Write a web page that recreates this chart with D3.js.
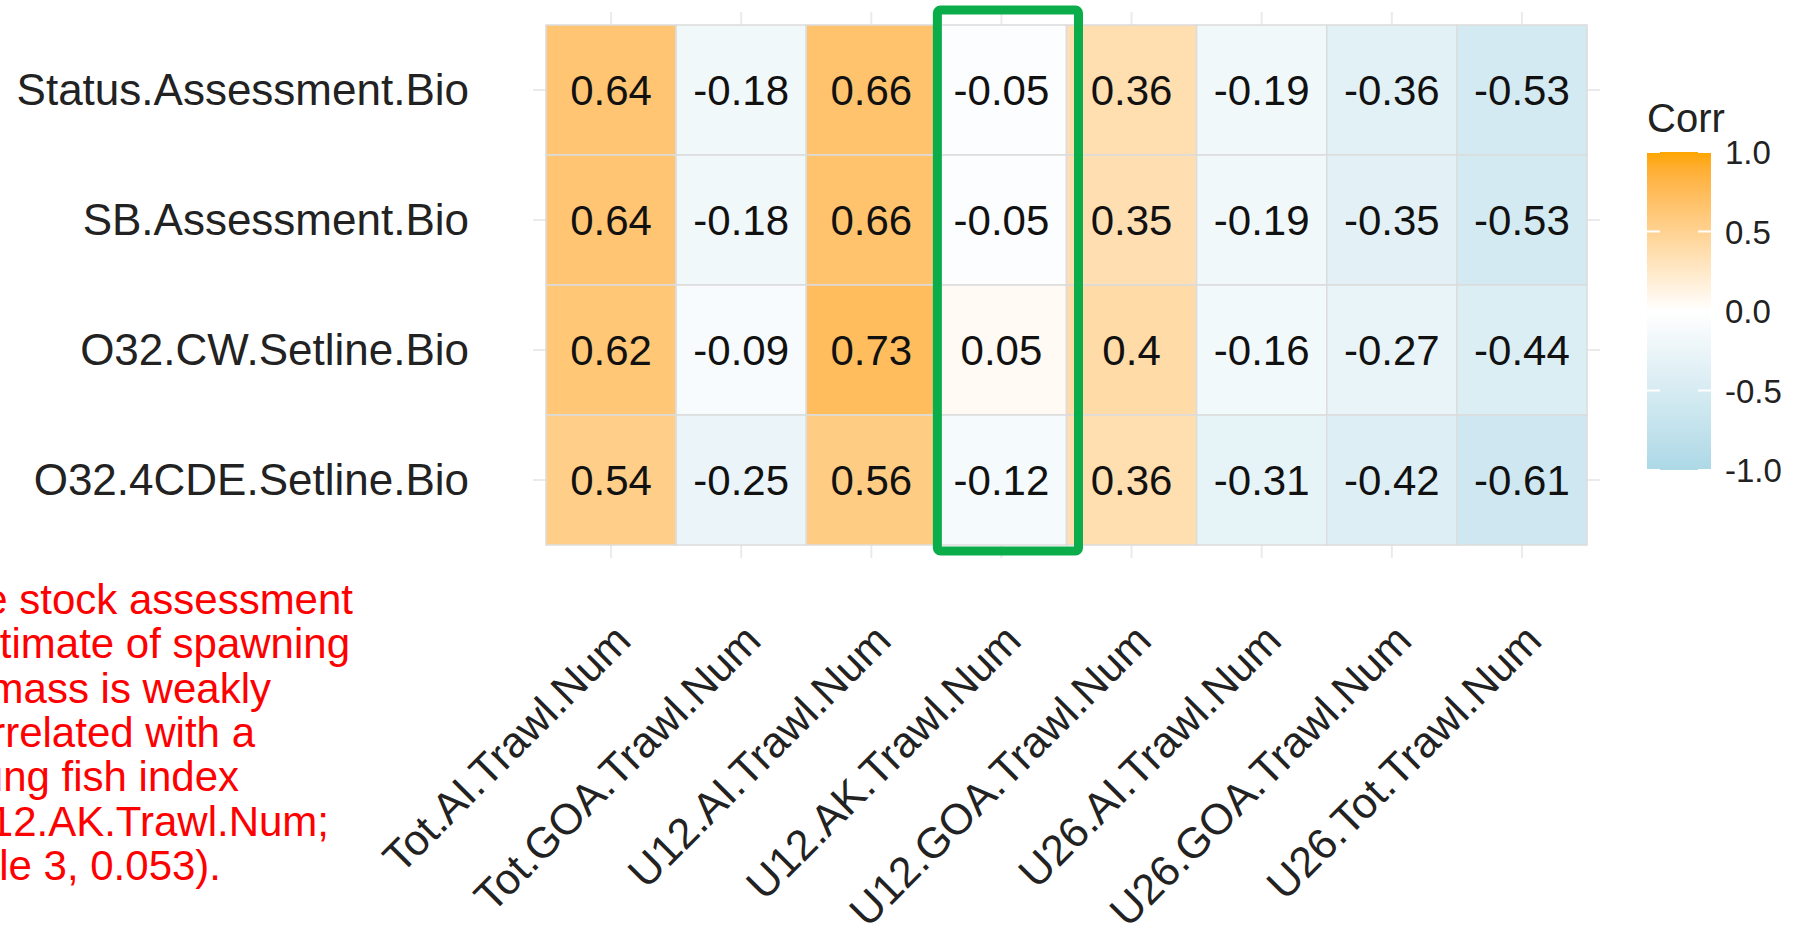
<!DOCTYPE html><html><head><meta charset="utf-8">
<script src="https://cdn.jsdelivr.net/npm/d3@7"></script>
<style>body{margin:0;background:#fff}svg{display:block}</style></head><body>
<svg id="c" width="1803" height="941"></svg>
<script>
const cols=["Tot.AI.Trawl.Num","Tot.GOA.Trawl.Num","U12.AI.Trawl.Num","U12.AK.Trawl.Num","U12.GOA.Trawl.Num","U26.AI.Trawl.Num","U26.GOA.Trawl.Num","U26.Tot.Trawl.Num"];
const rows=["Status.Assessment.Bio","SB.Assessment.Bio","O32.CW.Setline.Bio","O32.4CDE.Setline.Bio"];
const vals=[
[0.64,-0.18,0.66,-0.05,0.36,-0.19,-0.36,-0.53],
[0.64,-0.18,0.66,-0.05,0.35,-0.19,-0.35,-0.53],
[0.62,-0.09,0.73,0.05,0.4,-0.16,-0.27,-0.44],
[0.54,-0.25,0.56,-0.12,0.36,-0.31,-0.42,-0.61]];
const legendTicks=[1.0,0.5,0.0,-0.5,-1.0];
const note=["The stock assessment","estimate of spawning","biomass is weakly","correlated with a","young fish index","(U12.AK.Trawl.Num;","Table 3, 0.053)."];
const highlight="U12.AK.Trawl.Num";

const svg=d3.select("#c");
const F="Liberation Sans, Arial, sans-serif";
const x=d3.scaleBand().domain(cols).range([546,1587]);
const y=d3.scaleBand().domain(rows).range([25,545]);
const color=v=>v>=0?d3.interpolateLab("#ffffff","#ffa500")(v):d3.interpolateLab("#ffffff","#add8e6")(-v);
svg.append("g").selectAll("line").data(cols).join("line")
 .attr("x1",d=>x(d)+x.bandwidth()/2).attr("x2",d=>x(d)+x.bandwidth()/2)
 .attr("y1",12).attr("y2",558).attr("stroke","#ebebeb").attr("stroke-width",2);
svg.append("g").selectAll("line").data(rows).join("line")
 .attr("y1",d=>y(d)+y.bandwidth()/2).attr("y2",d=>y(d)+y.bandwidth()/2)
 .attr("x1",533).attr("x2",1600).attr("stroke","#ebebeb").attr("stroke-width",2);
const cells=[];vals.forEach((r,i)=>r.forEach((v,j)=>cells.push({r:rows[i],c:cols[j],v})));
svg.append("g").selectAll("rect").data(cells).join("rect")
 .attr("x",d=>x(d.c)).attr("y",d=>y(d.r)).attr("width",x.bandwidth()).attr("height",y.bandwidth())
 .attr("fill",d=>color(d.v)).attr("stroke","#dcdcdc").attr("stroke-width",1.5);
svg.append("g").selectAll("text").data(cells).join("text")
 .attr("x",d=>x(d.c)+x.bandwidth()/2).attr("y",d=>y(d.r)+y.bandwidth()/2+15)
 .attr("text-anchor","middle").attr("font-family",F).attr("font-size",42).attr("fill","#111").text(d=>d.v);
svg.append("g").selectAll("text").data(rows).join("text")
 .attr("x",469).attr("y",d=>y(d)+y.bandwidth()/2+15).attr("text-anchor","end")
 .attr("font-family",F).attr("font-size",44).attr("fill","#222").text(d=>d);
svg.append("g").selectAll("text").data(cols).join("text")
 .attr("transform",d=>`translate(${x(d)+x.bandwidth()/2+22},${643}) rotate(-45)`)
 .attr("text-anchor","end").attr("font-family",F).attr("font-size",43).attr("fill","#222").text(d=>d);
svg.append("rect").attr("x",x(highlight)+1).attr("y",10).attr("width",x.bandwidth()+11).attr("height",541)
 .attr("fill","none").attr("stroke","#0aad4a").attr("stroke-width",9).attr("rx",3);
const ly=d3.scaleLinear().domain([1,-1]).range([152,470]);
const defs=svg.append("defs");const g=defs.append("linearGradient").attr("id","lg").attr("x1",0).attr("x2",0).attr("y1",0).attr("y2",1);
d3.range(0,1.0001,0.05).forEach(t=>g.append("stop").attr("offset",t).attr("stop-color",color(1-2*t)));
svg.append("rect").attr("x",1647).attr("y",152).attr("width",64).attr("height",318).attr("fill","url(#lg)");
svg.append("text").attr("x",1647).attr("y",132).attr("font-family",F).attr("font-size",40).attr("fill","#222").text("Corr");
legendTicks.forEach(t=>{
 svg.append("line").attr("x1",1647).attr("x2",1660).attr("y1",ly(t)).attr("y2",ly(t)).attr("stroke","#fff").attr("stroke-width",2);
 svg.append("line").attr("x1",1698).attr("x2",1711).attr("y1",ly(t)).attr("y2",ly(t)).attr("stroke","#fff").attr("stroke-width",2);
 svg.append("text").attr("x",1725).attr("y",ly(t)+12).attr("font-family",F).attr("font-size",33).attr("fill","#222").text(t.toFixed(1));
});
const ends=[353,350,271,255,239,329,221];
svg.append("g").selectAll("text").data(note).join("text")
 .attr("x",(d,i)=>ends[i]).attr("y",(d,i)=>614+i*44.3).attr("text-anchor","end")
 .attr("font-family","Liberation Sans Narrow, sans-serif").attr("font-size",42).attr("fill","#ff0000").text(d=>d);
</script></body></html>
